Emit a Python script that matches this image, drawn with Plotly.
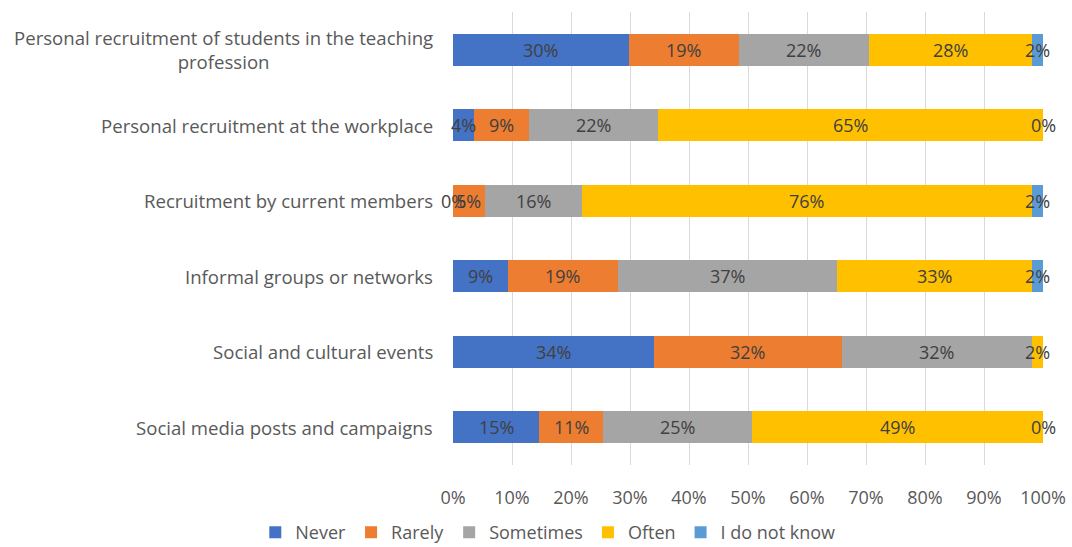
import plotly.graph_objects as go

categories = [
    "Personal recruitment of students in the teaching<br>profession",
    "Personal recruitment at the workplace",
    "Recruitment by current members",
    "Informal groups or networks",
    "Social and cultural events",
    "Social media posts and campaigns",
]
series_names = ["Never", "Rarely", "Sometimes", "Often", "I do not know"]
never = [29.8, 3.6, 0.0, 9.3, 34.0, 14.6]
rarely = [18.6, 9.2, 5.4, 18.6, 31.9, 10.9]
sometimes = [22.1, 21.9, 16.4, 37.1, 32.2, 25.1]
often = [27.6, 65.3, 76.3, 33.1, 1.9, 49.4]
dont_know = [1.9, 0.0, 1.9, 1.9, 0.0, 0.0]
tick_vals = [0, 10, 20, 30, 40, 50, 60, 70, 80, 90, 100]
tick_text = ["0%", "10%", "20%", "30%", "40%", "50%", "60%", "70%", "80%", "90%", "100%"]

colors = ["#4472C4", "#ED7D31", "#A5A5A5", "#FFC000", "#5B9BD5"]
series = [never, rarely, sometimes, often, dont_know]
FONT = "Open Sans"
FS = 18

fig = go.Figure()
for name, vals, col in zip(series_names, series, colors):
    fig.add_trace(go.Bar(
        y=categories, x=vals, name=name, orientation="h",
        marker=dict(color=col, line=dict(width=0)),
        hoverinfo="x+name",
    ))

annotations = []
# value labels at segment centres
for i, cat in enumerate(categories):
    cum = 0.0
    for vals in series:
        v = vals[i]
        annotations.append(dict(
            x=cum + v / 2, y=cat, xref="x", yref="y",
            text=f"{v:.0f}%", showarrow=False,
            font=dict(family=FONT, size=FS, color="#404040"),
        ))
        cum += v

# category labels
for cat in categories:
    annotations.append(dict(
        x=-0.031, y=cat, xref="paper", yref="y",
        text=cat, showarrow=False, xanchor="right", align="center",
        font=dict(family=FONT, size=18.6, color="#595959"),
    ))

fig.update_layout(
    width=1072, height=547,
    paper_bgcolor="white", plot_bgcolor="white",
    margin=dict(l=453, r=29, t=12, b=82, autoexpand=False),
    barmode="stack", bargap=0.58,
    font=dict(family=FONT, size=FS, color="#595959"),
    xaxis=dict(
        range=[0, 100], tickvals=tick_vals, ticktext=tick_text,
        showgrid=True, gridcolor="#D9D9D9", gridwidth=1,
        zeroline=False, showline=False, ticks="",
        ticklabelstandoff=20, automargin=False,
        tickfont=dict(family=FONT, size=FS, color="#595959"),
    ),
    yaxis=dict(
        autorange="reversed", showticklabels=False, showgrid=False,
        zeroline=False, showline=False, ticks="", automargin=False,
    ),
    legend=dict(
        orientation="h", traceorder="normal",
        xref="container", yref="paper",
        x=0.511, xanchor="center", y=-0.149, yanchor="middle",
        font=dict(family=FONT, size=FS, color="#595959"),
        itemwidth=30, tracegroupgap=0,
    ),
    annotations=annotations,
    showlegend=True,
)

fig.write_html("out.html", config={"displayModeBar": False},
               post_script="document.body.style.margin='0';")
